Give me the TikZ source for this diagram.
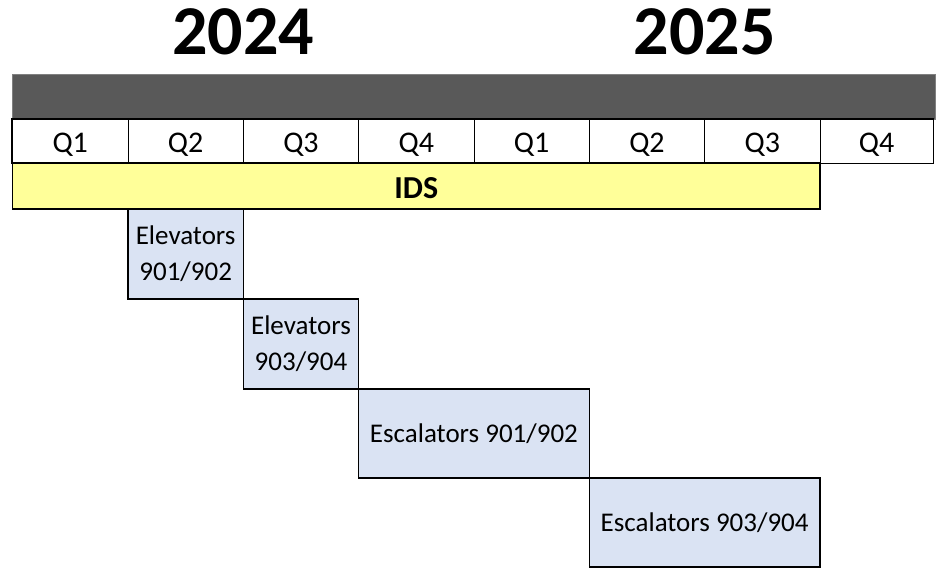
\documentclass[tikz,border=0pt]{standalone}
\usepackage{fontspec}
\setmainfont{Carlito}
\definecolor{barGray}{HTML}{595959}
\definecolor{idsYellow}{HTML}{FFFF99}
\definecolor{taskBlue}{HTML}{DAE3F3}
\begin{document}
\begin{tikzpicture}[x=1pt,y=1pt,
	year/.style={font=\bfseries\fontsize{70}{84}\selectfont, anchor=base, inner sep=0pt},
	qcell/.style={draw=black, line width=0.8pt, fill=white, inner sep=0pt, minimum height=44pt,
		text height=23.6pt, text depth=0pt, font=\fontsize{30}{36}\selectfont},
	task/.style={draw=black, line width=1.5pt, fill=taskBlue, align=center, inner sep=0pt,
		outer sep=0pt, anchor=north west, font=\fontsize{27}{35.6}\selectfont}]
			\useasboundingbox (0,0) rectangle (939,570);
			\node[year] (y2024) at (243.3,515) {2024};
			\node[year] (y2025) at (704.6,515) {2025};
				%%%%%%%%
			\node[draw=gray, line width=0.6pt, fill=barGray, inner sep=0pt, outer sep=0pt,
				anchor=north west, minimum width=922.5pt, minimum height=45pt] (bar) at (12.5,496) {};
			\foreach \xa/\xb/\q [count=\n] in {12.5/128/1,128/243.3/2,243.3/358.6/3,358.6/474/4,
				474/589.3/1,589.3/704.6/2,704.6/820/3,820/933/4}{
				\node[qcell, minimum width=\xb pt-\xa pt] (q\n) at ({(\xa+\xb)/2},429) {Q\q};}
			\draw[line width=1.5pt] (q1.north west) rectangle (q8.south east);
				%%%%%%%%
			\node[draw=black, line width=1.5pt, fill=idsYellow, inner sep=0pt, outer sep=0pt,
				anchor=north west, minimum width=807.5pt, minimum height=46pt,
				text height=24.6pt, text depth=0pt, font=\bfseries\fontsize{32}{38}\selectfont] (ids) at (12.5,407) {IDS};
			\node[task, minimum width=115.3pt, minimum height=90pt] (elev1) at (128,361) {Elevators\\901/902};
			\node[task, minimum width=115.3pt, minimum height=90pt] (elev2) at (elev1.south east) {Elevators\\903/904};
			\node[task, minimum width=230.7pt, minimum height=89pt] (esc1) at (elev2.south east) {Escalators 901/902};
			\node[task, minimum width=230.7pt, minimum height=89pt] (esc2) at (esc1.south east) {Escalators 903/904};
		\end{tikzpicture}
\end{document}
